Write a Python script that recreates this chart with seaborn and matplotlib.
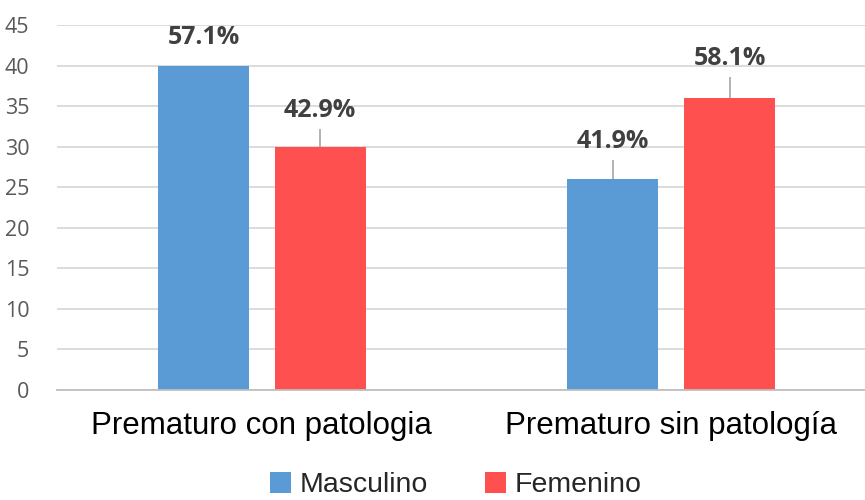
import matplotlib
matplotlib.use("Agg")
import matplotlib.pyplot as plt
import seaborn as sns
import pandas as pd

# Data
categories = ["Prematuro con patologia", "Prematuro sin patología"]
sexes = ["Masculino", "Femenino"]
masculino = [40, 26]
femenino = [30, 36]
y_ticks = [0, 5, 10, 15, 20, 25, 30, 35, 40, 45]

colors = {"Masculino": "#5B9BD5", "Femenino": "#FF5050"}

df = pd.DataFrame({
    "categoria": categories * 2,
    "sexo": [sexes[0]] * len(categories) + [sexes[1]] * len(categories),
    "valor": masculino + femenino,
})

sns.set_theme(style="white")
plt.rcParams["font.family"] = ["Liberation Sans", "DejaVu Sans"]

fig = plt.figure(figsize=(8.65, 5.0), dpi=100)
ax = fig.add_axes([0.066, 0.22, 0.934, 0.73])

sns.barplot(data=df, x="categoria", y="valor", hue="sexo", hue_order=sexes,
            order=categories, palette=colors, width=0.57, gap=0.22,
            saturation=1, linewidth=0, ax=ax)

ax.set_xlim(-0.5, 1.473)
ax.set_ylim(0, 45)
ax.set_yticks(y_ticks)
ax.set_yticklabels([str(t) for t in y_ticks], fontsize=15.5, color="#595959",
                   family=["Open Sans", "DejaVu Sans"])
ax.tick_params(axis="y", length=0, pad=20)
ax.tick_params(axis="x", length=0, pad=15, labelsize=22.5, labelcolor="#000000")
ax.set_xlabel("")
ax.set_ylabel("")
ax.yaxis.grid(True, color="#D9D9D9", linewidth=1.3)
ax.set_axisbelow(True)
for side in ["left", "right", "top"]:
    ax.spines[side].set_visible(False)
ax.spines["bottom"].set_color("#BFBFBF")
ax.spines["bottom"].set_linewidth(1.3)

# Percentage labels (share of each category), with leader lines to the bars
totals = [m + f for m, f in zip(masculino, femenino)]
series = [masculino, femenino]
label_offsets = [[3.4, 4.6], [4.5, 4.9]]
patches = ax.patches
for s_idx, vals in enumerate(series):
    for c_idx, v in enumerate(vals):
        p = patches[s_idx * len(categories) + c_idx]
        xc = p.get_x() + p.get_width() / 2
        top = p.get_height()
        pct = v / totals[c_idx] * 100
        off = label_offsets[s_idx][c_idx]
        ax.text(xc, top + off, f"{pct:.1f}%", ha="center", va="center",
                fontsize=18, fontweight="bold", color="#404040",
                family=["Open Sans", "DejaVu Sans"])
        if off > 4:
            ax.plot([xc, xc], [top, top + off - 2.3], color="#A6A6A6",
                    linewidth=1.2, solid_capstyle="butt")

handles, labels = ax.get_legend_handles_labels()
if ax.legend_:
    ax.legend_.remove()
fig.legend(handles, labels, loc="center", bbox_to_anchor=(0.527, 0.03),
           ncol=2, frameon=False, fontsize=20.5, handlelength=0.75,
           handleheight=0.75, handletextpad=0.3, columnspacing=2.0)

fig.savefig("out.png", dpi=100)
